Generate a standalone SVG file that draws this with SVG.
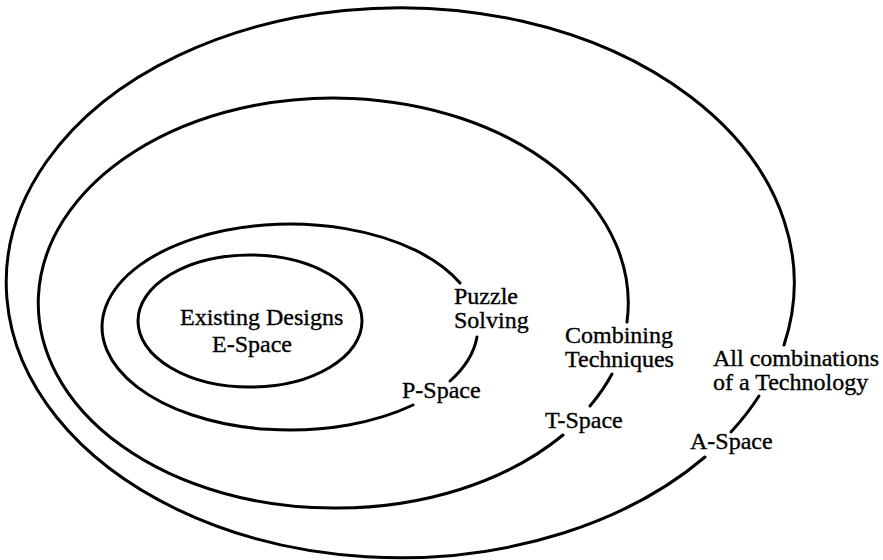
<svg xmlns="http://www.w3.org/2000/svg" width="883" height="560" viewBox="0 0 883 560">
  <style>
    .ring { fill: none; stroke: #000; stroke-width: 3; stroke-linecap: round; }
    .lbl { font-family: "Liberation Serif", "Times New Roman", serif; font-size: 24px; fill: #000; stroke: #000; stroke-width: 0.35; }
  </style>
  <rect x="0" y="0" width="883" height="560" fill="#fff"/>
  <g id="a-space">
    <path class="ring" d="M 705 457 A 394 275 0 1 1 784 345"/>
    <path class="ring" d="M 759 396 A 394 275 0 0 1 731 432"/>
    <text class="lbl" x="713" y="366">All combinations</text>
    <text class="lbl" x="713" y="390">of a Technology</text>
    <text class="lbl" x="690" y="449">A-Space</text>
  </g>
  <g id="t-space">
    <path class="ring" d="M 563 435 A 295 205 0 0 1 333 508 A 295 205 0 1 1 627 322"/>
    <path class="ring" d="M 612 374 A 295 205 0 0 1 590 406"/>
    <text class="lbl" x="565" y="343">Combining</text>
    <text class="lbl" x="565" y="367">Techniques</text>
    <text class="lbl" x="545" y="428">T-Space</text>
  </g>
  <g id="p-space">
    <path class="ring" d="M 413 405 A 188 103 0 1 1 460 283"/>
    <path class="ring" d="M 477 337 A 188 103 0 0 1 450 381"/>
    <text class="lbl" x="454" y="304">Puzzle</text>
    <text class="lbl" x="454" y="328">Solving</text>
    <text class="lbl" x="402" y="398">P-Space</text>
  </g>
  <g id="e-space">
    <ellipse class="ring" cx="250" cy="321" rx="112" ry="66"/>
    <text class="lbl" x="180" y="325">Existing Designs</text>
    <text class="lbl" x="212" y="352">E-Space</text>
  </g>
  <g id="connectors"></g>
</svg>
